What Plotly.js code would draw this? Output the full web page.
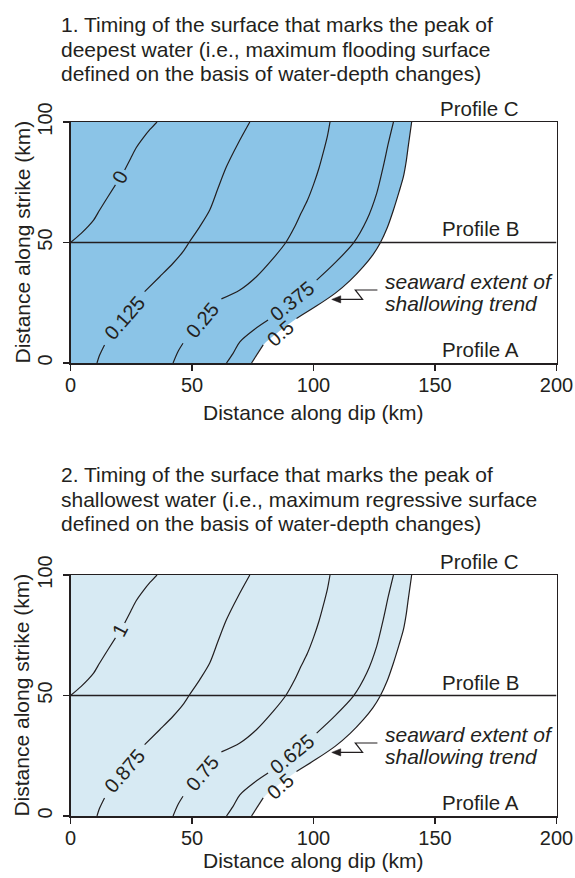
<!DOCTYPE html>
<html><head><meta charset="utf-8">
<script src="https://cdn.plot.ly/plotly-3.0.1.min.js"></script>
<style>html,body{margin:0;padding:0;background:#fff}#chart{width:575px;height:878px}</style>
</head><body><div id="chart"></div>
<script>
// ---- Data (distance along dip, km / distance along strike, km); null = gap for a contour label ----
const line1Dip    = [0, 4.4, 9.5, 12, 15.4, 18.5, null, 22.3, 24.8, 27.1, 30, 32.8, 35.6];
const line1Strike = [50, 53.8, 59.3, 63.5, 69, 73.9, null, 80.1, 85, 89.4, 93.5, 97, 100];

const line2Dip    = [10.9, 12, 14, null, 30.5, 36.7, 42.2, 46.3, 49, 53.2, 57.3, 60.7, 64.2, 69, 73.8];
const line2Strike = [0, 3.3, 7.5, null, 29.6, 35.8, 41.4, 46.2, 50.3, 56.6, 63.5, 72.5, 81.5, 91.2, 100];

const line3Dip    = [42.2, 44.2, 46.3, null, 62.1, 69.7, 76.5, 83.4, 88.6, 92.3, 94.8, 97.5, 100, 102.3, 104.3, 105.7, 106.8];
const line3Strike = [0, 4.7, 8.2, null, 26.6, 30.3, 35.8, 43.4, 50, 56.6, 62, 67.5, 74, 81, 88.4, 94, 100];

const line4Dip    = [64.2, 66.9, 69.7, 75.5, 81.3, null, 101.3, 108.1, 116.4, 121.9, 126, 128.7, 130.8, 132.9];
const line4Strike = [0, 4, 8.8, 13.8, 17.8, null, 34.4, 40.8, 49.7, 59.3, 70.4, 81.5, 91.2, 100];

// seaward extent of shallowing trend (also the 0.5 contour)
const line5Dip    = [74.5, 79.3, null, 93, 101, 109, 115, 120.5, 124.5, 127.4, 130.3, 132.9, 135.2, 137, 138.2, 139, 140.4];
const line5Strike = [0, 7.5, null, 18.5, 23.5, 29, 34.2, 40, 45, 49.7, 56, 63.5, 71, 77.3, 84, 90, 100];

const labelsPanel1 = ['0', '0.125', '0.25', '0.375', '0.5'];
const labelsPanel2 = ['1', '0.875', '0.75', '0.625', '0.5'];

const xTicks = [0, 50, 100, 150, 200];
const yTicks = [0, 50, 100];
const profileNames = ['Profile A', 'Profile B', 'Profile C'];
const profileStrike = [0, 50, 100];

const title1Lines = ['1. Timing of the surface that marks the peak of',
  'deepest water (i.e., maximum flooding surface',
  'defined on the basis of water-depth changes)'];
const title2Lines = ['2. Timing of the surface that marks the peak of',
  'shallowest water (i.e., maximum regressive surface',
  'defined on the basis of water-depth changes)'];
const noteLines = ['seaward extent of', 'shallowing trend'];

// ---- Styling / layout ----
const FONT = 'Liberation Sans, Arial, Helvetica, sans-serif';
const INK = '#231f20';
const fills = ['#8bc4e7', '#d7eaf3'];
const labelPos = [
  {x: 20.5, y: 77, a: -62},
  {x: 22.3, y: 18.5, a: -49},
  {x: 54.3, y: 17.8, a: -50},
  {x: 91.2, y: 25.8, a: -39},
  {x: 86.4, y: 12.6, a: -41}
];
const lines = [[line1Dip, line1Strike], [line2Dip, line2Strike], [line3Dip, line3Strike], [line4Dip, line4Strike], [line5Dip, line5Strike]];
const H = 878;

const traces = [];
const annotations = [];
const shapes = [];

[1, 2].forEach((p, i) => {
  const xa = p === 1 ? 'x' : 'x2';
  const ya = p === 1 ? 'y' : 'y2';
  const fx = [], fy = [];
  line5Dip.forEach((v, k) => { if (v !== null) { fx.push(v); fy.push(line5Strike[k]); } });
  traces.push({x: fx, y: fy, xaxis: xa, yaxis: ya, type: 'scatter', mode: 'lines',
    fill: 'tozerox', fillcolor: fills[i], line: {width: 0, color: fills[i], shape: 'spline', smoothing: 0.8}, hoverinfo: 'skip'});
  lines.forEach(([lx, ly]) => {
    traces.push({x: lx, y: ly, xaxis: xa, yaxis: ya, type: 'scatter', mode: 'lines',
      connectgaps: false, line: {color: INK, width: 1.2, shape: 'spline', smoothing: 0.8}, hoverinfo: 'skip'});
  });
  const labs = p === 1 ? labelsPanel1 : labelsPanel2;
  labs.forEach((t, k) => {
    annotations.push({xref: xa, yref: ya, x: labelPos[k].x, y: labelPos[k].y, text: t,
      textangle: labelPos[k].a, showarrow: false, font: {family: FONT, size: 20, color: INK}});
  });
  profileNames.forEach((t, k) => {
    annotations.push({xref: xa, yref: ya, x: 185.4, y: profileStrike[k], text: t, xanchor: 'right',
      yanchor: 'bottom', showarrow: false, font: {family: FONT, size: 20.5, color: INK}});
  });
  const noteY = [33.8, 24.7];
  noteLines.forEach((t, k) => {
    annotations.push({xref: xa, yref: ya, x: 128.7, y: noteY[k], text: '<i>' + t + '</i>',
      xanchor: 'left', yanchor: 'middle', align: 'left', showarrow: false, font: {family: FONT, size: 21, color: INK}});
  });
  shapes.push({type: 'line', xref: xa, yref: ya, x0: 0, x1: 200, y0: 50, y1: 50, line: {color: INK, width: 1.5}});
  shapes.push({type: 'path', xref: xa, yref: ya, path: 'M 126.3 30.3 L 117.2 30.3 L 120.2 26.4 L 110.5 26.4',
    line: {color: INK, width: 1.2}});
  shapes.push({type: 'path', xref: xa, yref: ya, path: 'M 107.5 26.4 L 111.2 27.9 L 111.2 24.9 Z',
    fillcolor: INK, line: {color: INK, width: 0.5}});
});

// titles (one annotation per line for tight leading)
const titleCenters = [[24.5, 49, 73.5], [474.5, 499, 523.5]];
[title1Lines, title2Lines].forEach((tl, i) => {
  tl.forEach((t, k) => {
    annotations.push({xref: 'paper', yref: 'paper', x: 0.1021, y: 1 - titleCenters[i][k] / H, xanchor: 'left', yanchor: 'middle',
      align: 'left', text: t, showarrow: false, font: {family: FONT, size: 21, color: INK}});
  });
});
const xTitleY = [0.5456, 0.0354];
const yTitleY = [0.7238, 0.2078];
[0, 1].forEach(i => {
  annotations.push({xref: 'paper', yref: 'paper', x: 0.546, y: xTitleY[i], xanchor: 'center', yanchor: 'top',
    text: 'Distance along dip (km)', showarrow: false, font: {family: FONT, size: 21, color: INK}});
  annotations.push({xref: 'paper', yref: 'paper', x: 0.0383, y: yTitleY[i], xanchor: 'center', yanchor: 'middle',
    text: 'Distance along strike (km)', textangle: -90, showarrow: false, font: {family: FONT, size: 21, color: INK}});
});

const xDomain = [70.5 / 575, 556.5 / 575];
function xAxis(anchor) {
  return {domain: xDomain, range: [0, 200], tickvals: xTicks, ticktext: xTicks.map(String), ticks: 'outside', ticklen: 6,
    tickwidth: 1.3, tickcolor: INK, showline: true, linecolor: INK, linewidth: 1.5, mirror: true,
    showgrid: false, zeroline: false, anchor: anchor, fixedrange: true, ticklabelstandoff: -3,
    tickfont: {family: FONT, size: 20, color: INK}};
}
function yAxis(domain, anchor) {
  return {domain: domain, range: [0, 100], tickvals: yTicks, ticktext: yTicks.map(String), ticks: 'outside', ticklen: 6,
    tickwidth: 1.3, tickcolor: INK, tickangle: -90, showline: true, linecolor: INK, linewidth: 1.5, mirror: true,
    showgrid: false, zeroline: false, anchor: anchor, fixedrange: true, ticklabelstandoff: 3,
    tickfont: {family: FONT, size: 20, color: INK}};
}

const layout = {
  width: 575, height: H,
  margin: {l: 0, r: 0, t: 0, b: 0},
  paper_bgcolor: '#ffffff', plot_bgcolor: '#ffffff',
  showlegend: false,
  xaxis: xAxis('y'),
  yaxis: yAxis([(H - 363) / H, (H - 122) / H], 'x'),
  xaxis2: xAxis('y2'),
  yaxis2: yAxis([(H - 816) / H, (H - 575) / H], 'x2'),
  annotations: annotations,
  shapes: shapes
};

Plotly.newPlot('chart', traces, layout, {staticPlot: true, displayModeBar: false});
</script>
</body></html>
